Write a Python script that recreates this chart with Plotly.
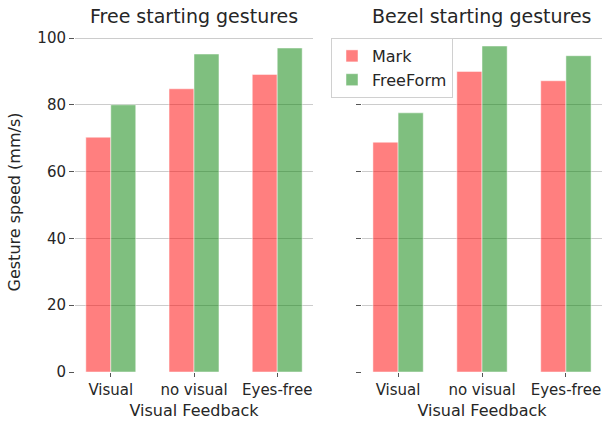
import plotly.graph_objects as go

# Gesture speed (mm/s) per visual-feedback condition
categories = ["Visual", "no visual", "Eyes-free"]
free_mark = [70.3, 84.8, 89.1]
free_freeform = [80.0, 95.2, 97.0]
bezel_mark = [68.8, 90.0, 87.2]
bezel_freeform = [77.6, 97.6, 94.7]
y_ticks = [0, 20, 40, 60, 80, 100]

RED = "rgba(255,0,0,0.5)"
GREEN = "rgba(0,128,0,0.5)"
TXT = "#262626"
FONT = "DejaVu Sans"

fig = go.Figure()

def add_pair(mark, freeform, xa, ya, show):
    fig.add_trace(go.Bar(x=categories, y=mark, name="Mark", marker_color=RED,
                         marker_line=dict(color="rgba(255,255,255,0.6)", width=0.8),
                         xaxis=xa, yaxis=ya, showlegend=show, legendgroup="m"))
    fig.add_trace(go.Bar(x=categories, y=freeform, name="FreeForm", marker_color=GREEN,
                         marker_line=dict(color="rgba(255,255,255,0.6)", width=0.8),
                         xaxis=xa, yaxis=ya, showlegend=show, legendgroup="f"))

add_pair(free_mark, free_freeform, "x", "y", True)
add_pair(bezel_mark, bezel_freeform, "x2", "y2", False)

W, H = 603, 422
ydom = [(H - 372) / H, (H - 32) / H]

xcommon = dict(range=[-0.43, 2.43], showgrid=False, zeroline=False, showline=False,
               automargin=False,
               ticks="outside", ticklen=4, tickcolor="#555555", tickwidth=1,
               tickfont=dict(family=FONT, size=15, color=TXT),
               title=dict(text="Visual Feedback", font=dict(family=FONT, size=16, color=TXT),
                          standoff=6))
ycommon = dict(range=[0, 101.8], tickvals=y_ticks, showgrid=True, gridcolor="#cccccc",
               gridwidth=1, zeroline=False, showline=False, ticks="outside", ticklen=5,
               automargin=False,
               tickcolor="#555555", tickwidth=1,
               tickfont=dict(family=FONT, size=15, color=TXT), domain=ydom)

fig.update_layout(
    width=W, height=H,
    margin=dict(l=0, r=0, t=0, b=0, autoexpand=False),
    paper_bgcolor="white", plot_bgcolor="white",
    barmode="group", bargap=0.4, bargroupgap=0,
    font=dict(family=FONT, color=TXT),
    xaxis=dict(domain=[75 / W, 313 / W], anchor="y", **xcommon),
    xaxis2=dict(domain=[362 / W, 602 / W], anchor="y2", **xcommon),
    yaxis=dict(anchor="x", title=dict(text="Gesture speed (mm/s)",
                                       font=dict(family=FONT, size=16, color=TXT), standoff=12),
               **ycommon),
    yaxis2=dict(anchor="x2", matches="y", showticklabels=False, **ycommon),
    legend=dict(x=331 / W, y=(H - 38) / H, xanchor="left", yanchor="top",
                bgcolor="rgba(255,255,255,0.85)", bordercolor="#d0d0d0", borderwidth=1,
                font=dict(family=FONT, size=16, color=TXT), tracegroupgap=0,
                itemwidth=30),
    annotations=[
        dict(text="Free starting gestures", x=(75 + 313) / 2 / W, y=(H - 16) / H,
             xref="paper", yref="paper", showarrow=False, xanchor="center", yanchor="middle",
             font=dict(family=FONT, size=19, color=TXT)),
        dict(text="Bezel starting gestures", x=(362 + 602) / 2 / W, y=(H - 16) / H,
             xref="paper", yref="paper", showarrow=False, xanchor="center", yanchor="middle",
             font=dict(family=FONT, size=19, color=TXT)),
    ],
)

fig.write_html("out.html")
